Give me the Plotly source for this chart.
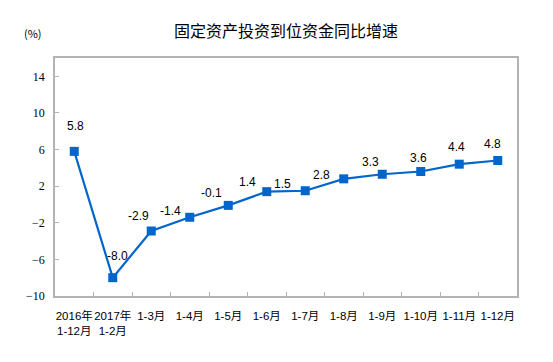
import plotly.graph_objects as go

categories = ["2016年<br>1-12月", "2017年<br>1-2月", "1-3月", "1-4月", "1-5月", "1-6月",
              "1-7月", "1-8月", "1-9月", "1-10月", "1-11月", "1-12月"]
values = [5.8, -8.0, -2.9, -1.4, -0.1, 1.4, 1.5, 2.8, 3.3, 3.6, 4.4, 4.8]
y_ticks = [-10, -6, -2, 2, 6, 10, 14]

# label offsets (pixels) relative to marker
label_dx = [1, 5, -13, -19, -17, -19, -23, -22, -12, -2, -3, -5]
label_dy = [25, 22, 15, 6, 12, 10, 7, 4, 12, 14, 17, 17]

OFF = 8  # page body margin
W, H = 553 - OFF, 362 - OFF
L, R, T, B = 55 - OFF, 36, 58 - OFF, 66

fig = go.Figure()
fig.add_trace(go.Scatter(
    x=categories, y=values, mode="lines+markers",
    line=dict(color="#0066CC", width=2.2),
    marker=dict(symbol="square", size=9, color="#0066CC"),
    hoverinfo="skip", showlegend=False,
))

for c, v, dx, dy in zip(categories, values, label_dx, label_dy):
    fig.add_annotation(x=c, y=v, text=f"{v:.1f}", showarrow=False,
                       xshift=dx, yshift=dy,
                       font=dict(family="Liberation Sans, Arial", size=12, color="#000"))

fig.add_annotation(xref="paper", yref="paper", x=(33 - OFF - L) / (W - L - R),
                   y=1 + (T - (33 - OFF)) / (H - T - B),
                   text="(%)", showarrow=False, xanchor="center", yanchor="middle",
                   font=dict(family="Noto Sans CJK SC", size=11, color="#000"))

fig.update_layout(
    width=W, height=H,
    margin=dict(l=L, r=R, t=T, b=B),
    paper_bgcolor="white", plot_bgcolor="white",
    title=dict(text="固定资产投资到位资金同比增速", x=(L + (W - L - R) / 2) / W, xanchor="center",
               y=1 - (31 - OFF) / H, yanchor="middle", yref="container",
               font=dict(family="Noto Sans CJK SC", size=16, color="#000")),
    xaxis=dict(type="category", range=[-0.5, 11.5], showline=True, linecolor="#B3B3B3", linewidth=1.5,
               mirror=True, ticks="inside", ticklen=4, tickcolor="#B3B3B3", tickson="boundaries",
               showgrid=False, zeroline=False, tickangle=0, automargin=False, ticklabelstandoff=8,
               tickfont=dict(family="Liberation Sans, Noto Sans CJK SC", size=11.5, color="#000")),
    yaxis=dict(range=[-10, 16], tickvals=y_ticks, showline=True, linecolor="#B3B3B3", linewidth=1.5,
               mirror=True, ticks="inside", ticklen=4, tickcolor="#B3B3B3", automargin=False,
               showgrid=False, zeroline=False, ticklabelstandoff=6,
               tickfont=dict(family="Liberation Serif, Times New Roman", size=12, color="#000")),
)

fig.write_html("out.html")
